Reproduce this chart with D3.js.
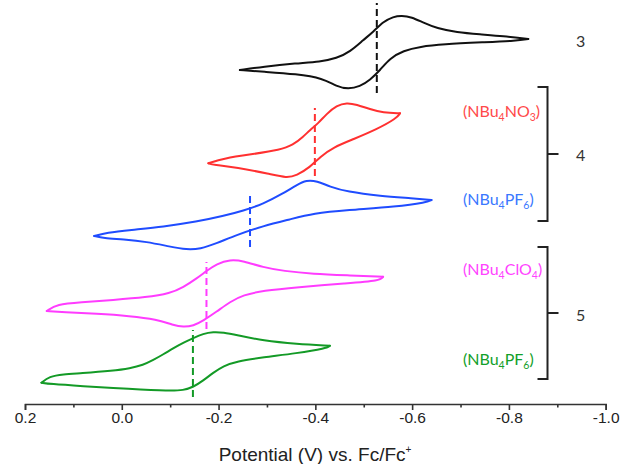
<!DOCTYPE html>
<html>
<head>
<meta charset="utf-8">
<script src="https://cdn.jsdelivr.net/npm/d3@7"></script>
<style>
  html, body { margin: 0; padding: 0; background: #fff; }
  svg { display: block; }
</style>
</head>
<body>
<svg id="chart" width="621" height="464"></svg>
<script>
// ---- Data: potential (V vs Fc/Fc+) and offset current (arbitrary units) ----
// Each voltammogram: forward branch (left tip -> right tip) and reverse branch (right tip -> left tip)
const cv3Forward = [[-0.244,33.3],[-0.292,33.63],[-0.361,33.97],[-0.410,34.13],[-0.444,34.47],[-0.472,35.13],[-0.499,36.3],[-0.520,37.13],[-0.540,38.13],[-0.561,38.63],[-0.578,38.75],[-0.599,38.6],[-0.623,38.03],[-0.651,37.47],[-0.692,37.07],[-0.740,36.87],[-0.788,36.7],[-0.840,36.4]];
const cv3Reverse = [[-0.840,36.4],[-0.816,36.23],[-0.747,36.07],[-0.664,35.87],[-0.616,35.63],[-0.582,35.23],[-0.554,34.47],[-0.534,33.3],[-0.513,32.3],[-0.492,31.65],[-0.468,31.4],[-0.444,31.65],[-0.416,32.47],[-0.361,32.9],[-0.292,33.13],[-0.244,33.3]];

const cv4NO3Forward = [[-0.179,23.97],[-0.210,24.47],[-0.272,24.9],[-0.327,25.3],[-0.354,25.8],[-0.375,26.63],[-0.389,27.3],[-0.406,27.97],[-0.423,28.9],[-0.444,29.75],[-0.465,30.03],[-0.485,29.85],[-0.513,29.37],[-0.540,29.03],[-0.575,28.97]];
const cv4NO3Reverse = [[-0.575,28.97],[-0.568,28.47],[-0.527,27.37],[-0.478,26.37],[-0.437,25.57],[-0.410,24.63],[-0.389,23.57],[-0.361,22.75],[-0.341,22.5],[-0.306,22.9],[-0.237,23.57],[-0.189,23.8],[-0.179,23.97]];

const cv4PF6Forward = [[0.057,16.7],[0.031,17.03],[-0.017,17.3],[-0.086,17.63],[-0.155,18.13],[-0.210,18.7],[-0.251,19.23],[-0.292,19.9],[-0.334,20.97],[-0.361,21.8],[-0.382,22.3],[-0.403,22.2],[-0.430,21.63],[-0.465,21.13],[-0.534,20.7],[-0.602,20.47],[-0.640,20.3]];
const cv4PF6Reverse = [[-0.640,20.3],[-0.630,20.07],[-0.568,19.63],[-0.465,19.3],[-0.396,18.97],[-0.348,18.37],[-0.292,17.7],[-0.237,16.8],[-0.196,15.97],[-0.162,15.4],[-0.134,15.33],[-0.100,15.63],[-0.051,16.13],[-0.003,16.37],[0.038,16.5],[0.057,16.7]];

const cv5ClO4Forward = [[0.155,9.2],[0.134,9.87],[0.086,10.07],[0.018,10.3],[-0.051,10.57],[-0.100,10.97],[-0.127,11.57],[-0.155,12.47],[-0.175,13.2],[-0.196,13.9],[-0.224,14.35],[-0.251,14.2],[-0.292,13.57],[-0.334,13.2],[-0.396,12.9],[-0.465,12.77],[-0.540,12.63]];
const cv5ClO4Reverse = [[-0.540,12.63],[-0.534,12.23],[-0.465,11.97],[-0.361,11.57],[-0.292,11.23],[-0.251,10.8],[-0.224,10.13],[-0.196,9.13],[-0.168,8.23],[-0.148,7.72],[-0.127,7.58],[-0.106,7.8],[-0.072,8.37],[-0.017,8.7],[0.052,8.93],[0.121,9.07],[0.155,9.2]];

const cv5PF6Forward = [[0.166,2.03],[0.150,2.65],[0.121,2.87],[0.086,2.97],[0.018,3.23],[-0.017,3.47],[-0.044,3.8],[-0.065,4.3],[-0.086,4.87],[-0.106,5.47],[-0.127,6.03],[-0.148,6.5],[-0.168,6.93],[-0.189,7.12],[-0.210,7.06],[-0.237,6.8],[-0.292,6.23],[-0.361,5.9],[-0.430,5.73]];
const cv5PF6Reverse = [[-0.430,5.73],[-0.423,5.47],[-0.361,4.97],[-0.292,4.57],[-0.237,4.17],[-0.210,3.7],[-0.189,3.03],[-0.168,2.23],[-0.148,1.6],[-0.127,1.27],[-0.100,1.2],[-0.017,1.4],[0.086,1.7],[0.148,1.9],[0.166,2.03]];

// Half-wave potentials (dashed lines) and their current spans
const halfWavePotentials = [-0.527, -0.399, -0.265, -0.175, -0.147];
const halfWaveSpans = [[31.0, 40.0], [22.7, 29.5], [15.6, 21.0], [7.4, 14.1], [0.6, 7.3]];

const seriesNames = ["3", "4 (NBu4NO3)", "4 (NBu4PF6)", "5 (NBu4ClO4)", "5 (NBu4PF6)"];
const seriesColors = ["#111111", "#ff3030", "#1f4cff", "#ff3cff", "#139a26"];
const labelColors = ["#222222", "#ff4a4a", "#3a78ff", "#ff44ff", "#12a02a"];

const xTicks = [0.2, 0.1, 0.0, -0.1, -0.2, -0.3, -0.4, -0.5, -0.6, -0.7, -0.8, -0.9, -1.0];
const xLabelTicks = [0.2, 0.0, -0.2, -0.4, -0.6, -0.8, -1.0];

// ---- Drawing ----
const svg = d3.select("#chart");
const x = d3.scaleLinear().domain([0.2, -1.0]).range([25, 605.7]);
const y = d3.scaleLinear().domain([0, 40.3]).range([403, 0]);

const curves = [
  [cv3Forward, cv3Reverse],
  [cv4NO3Forward, cv4NO3Reverse],
  [cv4PF6Forward, cv4PF6Reverse],
  [cv5ClO4Forward, cv5ClO4Reverse],
  [cv5PF6Forward, cv5PF6Reverse]
];

const line = d3.line()
  .x(d => x(d[0]))
  .y(d => y(d[1]))
  .curve(d3.curveBasis);

curves.forEach((branches, i) => {
  const g = svg.append("g").attr("class", "cv");
  branches.forEach(b => {
    g.append("path")
      .attr("d", line(b))
      .attr("fill", "none")
      .attr("stroke", seriesColors[i])
      .attr("stroke-width", 2)
      .attr("stroke-linecap", "round")
      .attr("stroke-linejoin", "round");
  });
  // dashed half-wave potential
  svg.append("line")
    .attr("x1", x(halfWavePotentials[i])).attr("x2", x(halfWavePotentials[i]))
    .attr("y1", y(halfWaveSpans[i][0])).attr("y2", y(halfWaveSpans[i][1]))
    .attr("stroke", seriesColors[i])
    .attr("stroke-width", 2)
    .attr("stroke-dasharray", "7,4");
});

// ---- X axis ----
const axisG = svg.append("g").attr("transform", "translate(0,404)");
const axis = d3.axisBottom(x)
  .tickValues(xTicks)
  .tickSizeOuter(0)
  .tickSize(6)
  .tickPadding(4)
  .tickFormat(d => xLabelTicks.some(v => Math.abs(v - d) < 1e-9) ? d3.format(".1f")(d).replace("\u2212", "-") : "");
axisG.call(axis);
axisG.select(".domain").attr("stroke", "#333").attr("stroke-width", 1.6);
axisG.selectAll(".tick line")
  .attr("stroke", "#333").attr("stroke-width", 1.6)
  .attr("y2", d => xLabelTicks.some(v => Math.abs(v - d) < 1e-9) ? 6 : 3.5);
axisG.selectAll(".tick text")
  .attr("fill", "#222")
  .attr("font-family", "'Liberation Sans', Arial, sans-serif")
  .attr("font-size", 15.5)
  .attr("y", 8);

// Axis title
const title = svg.append("text")
  .attr("x", 315).attr("y", 461)
  .attr("text-anchor", "middle")
  .attr("font-family", "'Liberation Sans', Arial, sans-serif")
  .attr("font-size", 19)
  .attr("fill", "#222");
title.append("tspan").text("Potential (V) vs. Fc/Fc");
title.append("tspan").attr("dy", -8).attr("font-size", 10).text("+");

// ---- Labels ----
const labelFont = "Lato, 'Open Sans', sans-serif";
function chemLabel(parts, xPos, yPos, color) {
  const t = svg.append("text")
    .attr("x", xPos).attr("y", yPos)
    .attr("font-family", labelFont)
    .attr("font-size", 16)
    .attr("fill", color);
  let shifted = false;
  parts.forEach(p => {
    if (p.sub) {
      t.append("tspan").attr("dy", 3.5).attr("font-size", 10.5).text(p.sub);
      shifted = true;
    } else {
      const ts = t.append("tspan").text(p.t);
      if (shifted) { ts.attr("dy", -3.5); shifted = false; }
    }
  });
}
chemLabel([{t:"(NBu"},{sub:"4"},{t:"NO"},{sub:"3"},{t:")"}], 463, 117, labelColors[1]);
chemLabel([{t:"(NBu"},{sub:"4"},{t:"PF"},{sub:"6"},{t:")"}], 463, 205, labelColors[2]);
chemLabel([{t:"(NBu"},{sub:"4"},{t:"ClO"},{sub:"4"},{t:")"}], 463, 275, labelColors[3]);
chemLabel([{t:"(NBu"},{sub:"4"},{t:"PF"},{sub:"6"},{t:")"}], 463, 365, labelColors[4]);

// Compound numbers
const numLabels = [["3", 47], ["4", 161], ["5", 321]];
numLabels.forEach(([n, yy]) => {
  svg.append("text").attr("x", 576).attr("y", yy)
    .attr("font-family", labelFont).attr("font-size", 16)
    .attr("fill", "#333").text(n);
});

// Brackets
const brackets = [[87, 221], [247, 379]];
brackets.forEach(([top, bot]) => {
  const xb = 547.5, mid = (top + bot) / 2;
  svg.append("path")
    .attr("d", `M${xb - 10},${top} L${xb},${top} L${xb},${bot} L${xb - 10},${bot} M${xb},${mid} L${xb + 11},${mid}`)
    .attr("fill", "none")
    .attr("stroke", "#222")
    .attr("stroke-width", 2);
});
</script>
</body>
</html>
